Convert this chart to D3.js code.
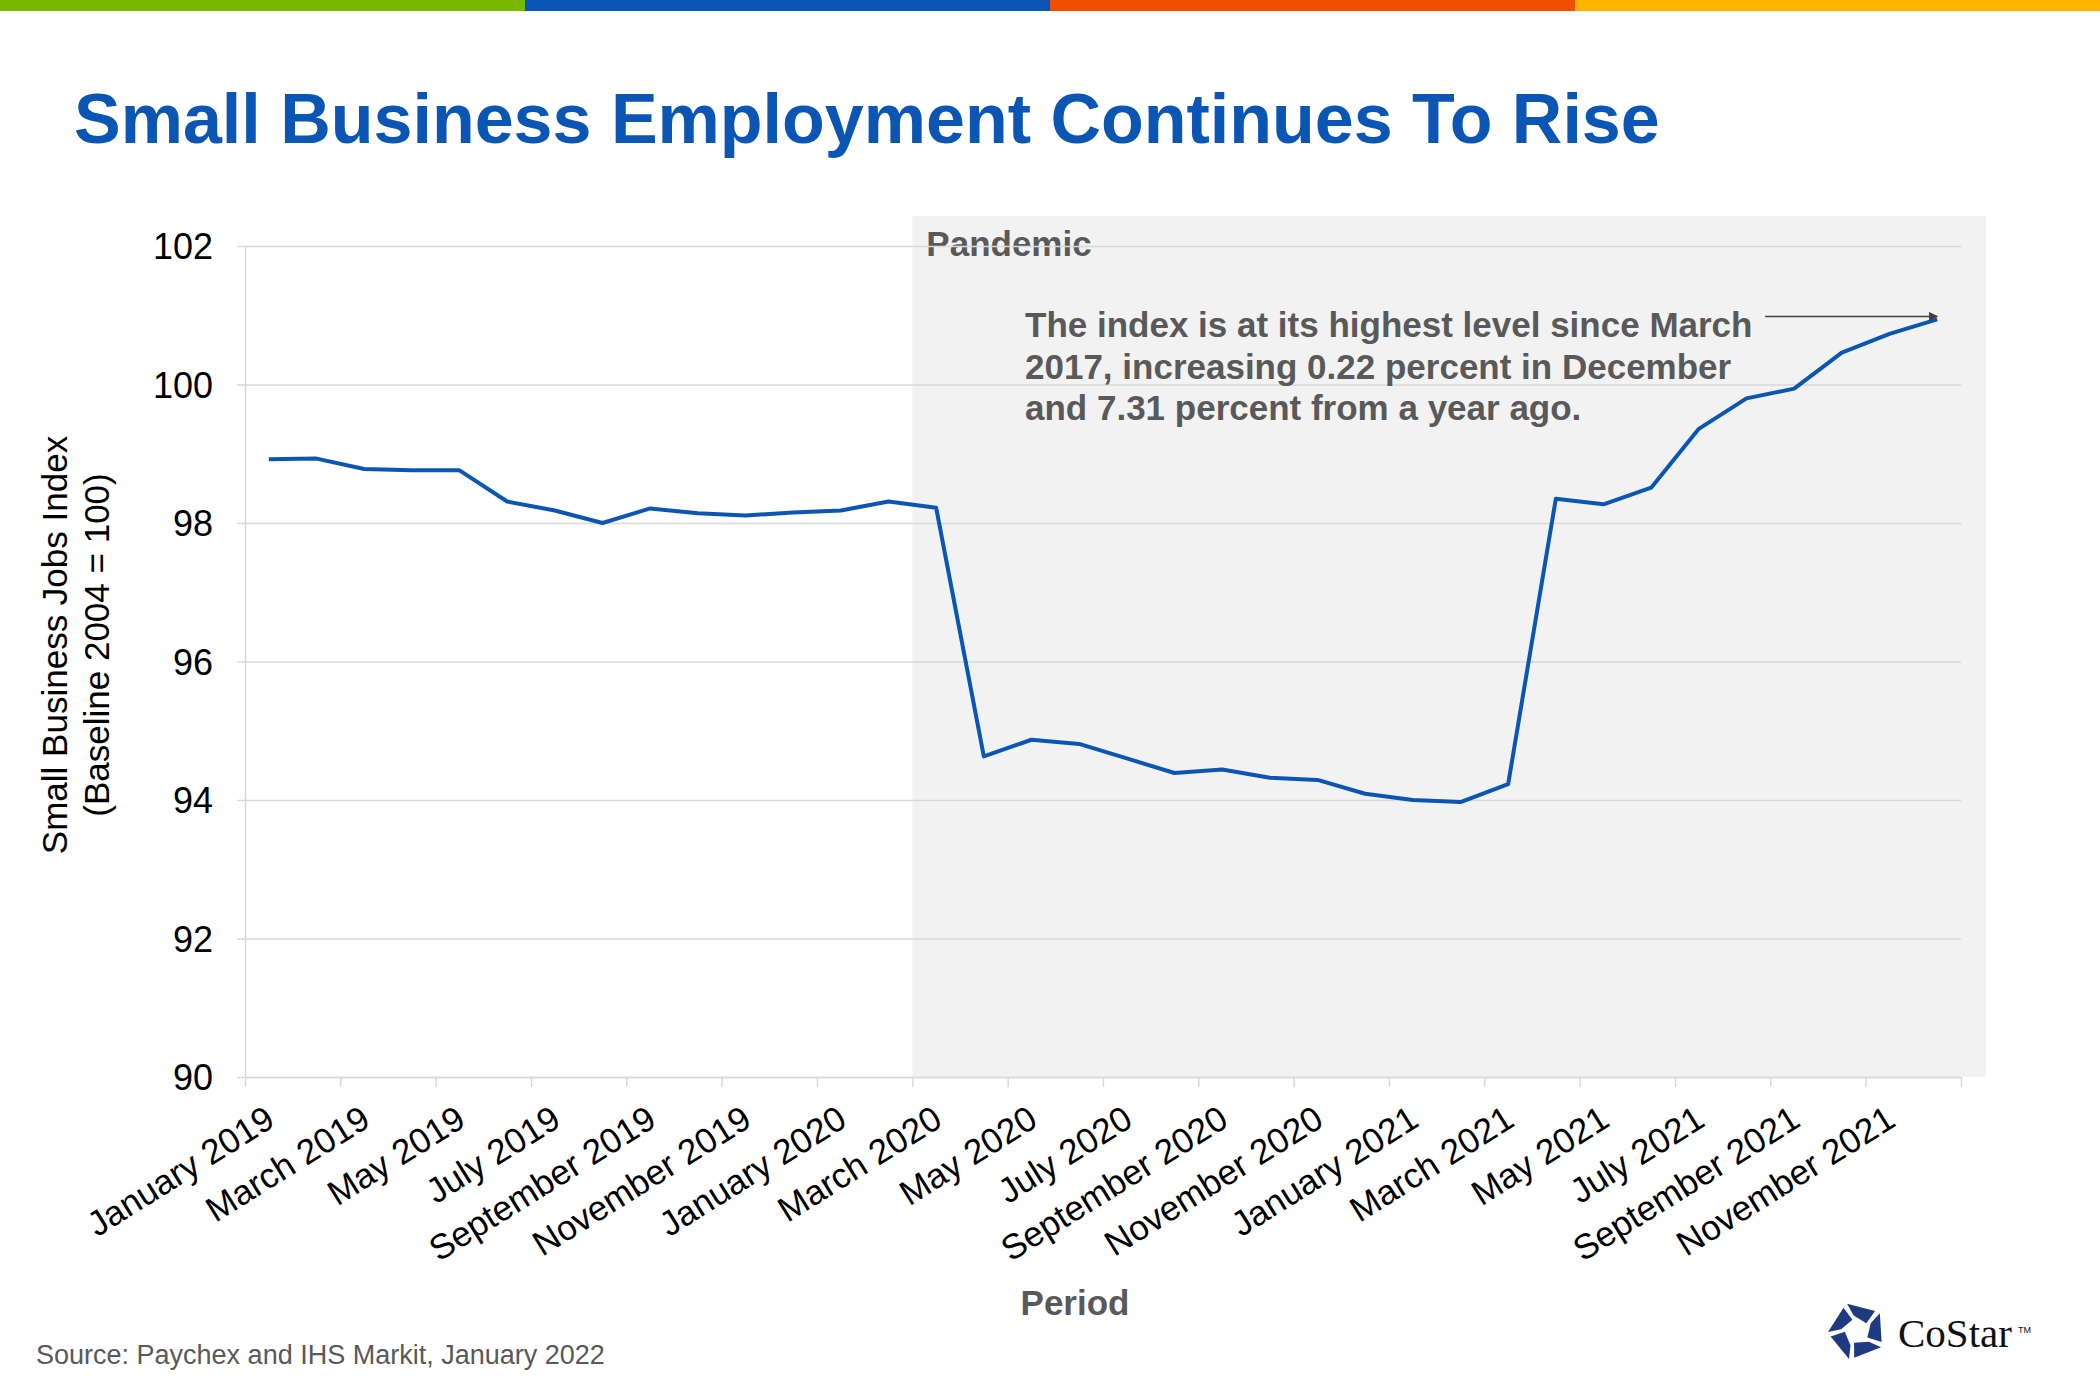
<!DOCTYPE html>
<html>
<head>
<meta charset="utf-8">
<script src="https://cdn.jsdelivr.net/npm/d3@7"></script>
<style>
  body { margin: 0; background: #fff; }
  svg { display: block; font-family: "Liberation Sans", Arial, sans-serif; }
</style>
</head>
<body>
<svg id="chart" width="2100" height="1400"></svg>
<script>
var periods = [
    "January 2019", "February 2019", "March 2019", "April 2019", "May 2019", "June 2019",
    "July 2019", "August 2019", "September 2019", "October 2019", "November 2019", "December 2019",
    "January 2020", "February 2020", "March 2020", "April 2020", "May 2020", "June 2020",
    "July 2020", "August 2020", "September 2020", "October 2020", "November 2020", "December 2020",
    "January 2021", "February 2021", "March 2021", "April 2021", "May 2021", "June 2021",
    "July 2021", "August 2021", "September 2021", "October 2021", "November 2021", "December 2021"
];
var jobsIndex = [
    98.92, 98.93, 98.78, 98.76, 98.76, 98.31,
    98.18, 98.00, 98.21, 98.14, 98.11, 98.15,
    98.18, 98.31, 98.22, 94.63, 94.87, 94.81,
    94.60, 94.39, 94.44, 94.32, 94.29, 94.09,
    94.00, 93.97, 94.23, 98.35, 98.27, 98.51,
    99.36, 99.80, 99.94, 100.46, 100.73, 100.94
];
var yTicks = [90, 92, 94, 96, 98, 100, 102];
var xLabels = [
    "January 2019", "March 2019", "May 2019", "July 2019", "September 2019", "November 2019",
    "January 2020", "March 2020", "May 2020", "July 2020", "September 2020", "November 2020",
    "January 2021", "March 2021", "May 2021", "July 2021", "September 2021", "November 2021"
];
var pandemicStart = "March 2020";
var topColors = ["#76b900", "#0a55b5", "#f04e00", "#ffb400"];

var svg = d3.select("#chart"),
    W = +svg.attr("width"),
    margin = {top: 246, right: 139, bottom: 323, left: 245},
    width = W - margin.left - margin.right,
    height = +svg.attr("height") - margin.top - margin.bottom,
    g = svg.append("g").attr("transform", "translate(" + margin.left + "," + margin.top + ")");

var grey = "#595959", gridColor = "#d9d9d9", blue = "#0b56b5";

// colour strip across the top
svg.selectAll("rect.strip")
    .data(topColors)
    .enter().append("rect")
    .attr("x", function(d, i) { return i * W / 4; })
    .attr("y", 0)
    .attr("width", W / 4 + 1)
    .attr("height", 11)
    .attr("fill", function(d) { return d; });

svg.append("text")
    .attr("x", 74)
    .attr("y", 143)
    .attr("fill", blue)
    .attr("font-size", 70)
    .attr("font-weight", "bold")
    .text("Small Business Employment Continues To Rise");

var x = d3.scaleBand()
    .domain(periods)
    .range([0, width]);

var xEdge = d3.scaleLinear()
    .domain([0, periods.length])
    .range([0, width]);

var y = d3.scaleLinear()
    .domain([90, 102])
    .range([height, 0]);

// pandemic shading
g.append("rect")
    .attr("x", x(pandemicStart))
    .attr("y", y(102) - 30)
    .attr("width", width + 25 - x(pandemicStart))
    .attr("height", height + 30)
    .attr("fill", "#f2f2f2");

g.append("text")
    .attr("x", x(pandemicStart) + 14)
    .attr("y", 10)
    .attr("fill", grey)
    .attr("font-size", 35)
    .attr("font-weight", "bold")
    .text("Pandemic");

// gridlines
var grid = g.append("g")
    .attr("transform", "translate(-8,0)")
    .call(d3.axisLeft(y).tickValues(yTicks).tickSize(-width - 8).tickFormat(""));
grid.select(".domain").remove();
grid.selectAll("line").attr("stroke", gridColor).attr("stroke-width", 1.5);

// y axis
var yAxis = g.append("g")
    .call(d3.axisLeft(y).tickValues(yTicks).tickSize(0).tickSizeOuter(0).tickPadding(32));
yAxis.select(".domain").attr("stroke", gridColor).attr("stroke-width", 1.5);
yAxis.selectAll("text")
    .attr("font-size", 36)
    .attr("fill", "#000")
    .attr("font-family", "Liberation Sans, Arial, sans-serif")
    .attr("dy", "0.36em");

// x axis tick marks at every second month boundary
var xTickAxis = g.append("g")
    .attr("transform", "translate(0," + height + ")")
    .call(d3.axisBottom(xEdge).tickValues(d3.range(0, periods.length + 1, 2)).tickSize(10).tickSizeOuter(0).tickFormat(""));
xTickAxis.select(".domain").attr("stroke", gridColor).attr("stroke-width", 1.5);
xTickAxis.selectAll("line").attr("stroke", gridColor).attr("stroke-width", 1.5);

// x axis labels
var xAxis = g.append("g")
    .attr("transform", "translate(0," + height + ")")
    .call(d3.axisBottom(x).tickValues(xLabels).tickSize(0));
xAxis.select(".domain").remove();
xAxis.selectAll("text")
    .attr("font-size", 35)
    .attr("fill", "#000")
    .attr("font-family", "Liberation Sans, Arial, sans-serif")
    .attr("x", 0)
    .attr("y", 0)
    .attr("dy", 0)
    .attr("text-anchor", "end")
    .attr("transform", "translate(8,48) rotate(-32)");

// the series
var line = d3.line()
    .x(function(d, i) { return x(periods[i]) + x.bandwidth() / 2; })
    .y(function(d) { return y(d); });

g.append("path")
    .datum(jobsIndex)
    .attr("fill", "none")
    .attr("stroke", blue)
    .attr("stroke-width", 4)
    .attr("stroke-linejoin", "round")
    .attr("d", line);

// annotation with arrow to the latest point
svg.append("defs").append("marker")
    .attr("id", "arrow")
    .attr("viewBox", "0 0 10 10")
    .attr("refX", 9)
    .attr("refY", 5)
    .attr("markerWidth", 6)
    .attr("markerHeight", 6)
    .attr("orient", "auto")
    .append("path")
    .attr("d", "M0,0 L10,5 L0,10 z")
    .attr("fill", "#404040");

var last = periods.length - 1,
    endX = x(periods[last]) + x.bandwidth() / 2,
    endY = y(jobsIndex[last]) - 3;

g.append("line")
    .attr("x1", endX - 172)
    .attr("y1", endY)
    .attr("x2", endX)
    .attr("y2", endY)
    .attr("stroke", "#404040")
    .attr("stroke-width", 1.5)
    .attr("marker-end", "url(#arrow)");

var note = ["The index is at its highest level since March",
            "2017, increasing 0.22 percent in December",
            "and 7.31 percent from a year ago."];
g.append("text")
    .attr("fill", grey)
    .attr("font-size", 35)
    .attr("font-weight", "bold")
    .selectAll("tspan")
    .data(note)
    .enter().append("tspan")
    .attr("x", 780)
    .attr("y", function(d, i) { return 91 + i * 41.7; })
    .text(function(d) { return d; });

// axis titles
var yTitle = svg.append("text")
    .attr("transform", "translate(67,645) rotate(-90)")
    .attr("text-anchor", "middle")
    .attr("font-size", 35)
    .attr("fill", "#000");
yTitle.append("tspan").attr("x", 0).attr("y", 0).text("Small Business Jobs Index");
yTitle.append("tspan").attr("x", 0).attr("y", 42).text("(Baseline 2004 = 100)");

svg.append("text")
    .attr("x", 1075)
    .attr("y", 1315)
    .attr("text-anchor", "middle")
    .attr("font-size", 35)
    .attr("font-weight", "bold")
    .attr("fill", grey)
    .text("Period");

svg.append("text")
    .attr("x", 36)
    .attr("y", 1364)
    .attr("font-size", 27)
    .attr("fill", grey)
    .text("Source: Paychex and IHS Markit, January 2022");

// CoStar logo
var logo = svg.append("g").attr("transform", "translate(1857,1331)");
var R = 29;
function polar(r, a) {
    var t = (a - 90) * Math.PI / 180;
    return [r * Math.cos(t), r * Math.sin(t)];
}
d3.range(5).forEach(function(k) {
    var a = k * 72 - 20;
    var pts = [polar(R, a), polar(R * 0.93, a + 62), polar(R * 0.42, a + 70), polar(R * 0.55, a + 8)];
    logo.append("path")
        .attr("d", "M" + pts.map(function(p) { return p.join(","); }).join("L") + "Z")
        .attr("fill", "#1f3b80");
});
svg.append("text")
    .attr("x", 1898)
    .attr("y", 1347)
    .attr("font-family", "Liberation Serif, Times New Roman, serif")
    .attr("font-size", 41)
    .attr("fill", "#111")
    .text("CoStar");
svg.append("text")
    .attr("x", 2018)
    .attr("y", 1333)
    .attr("font-size", 9)
    .attr("fill", "#111")
    .text("TM");
</script>
</body>
</html>
